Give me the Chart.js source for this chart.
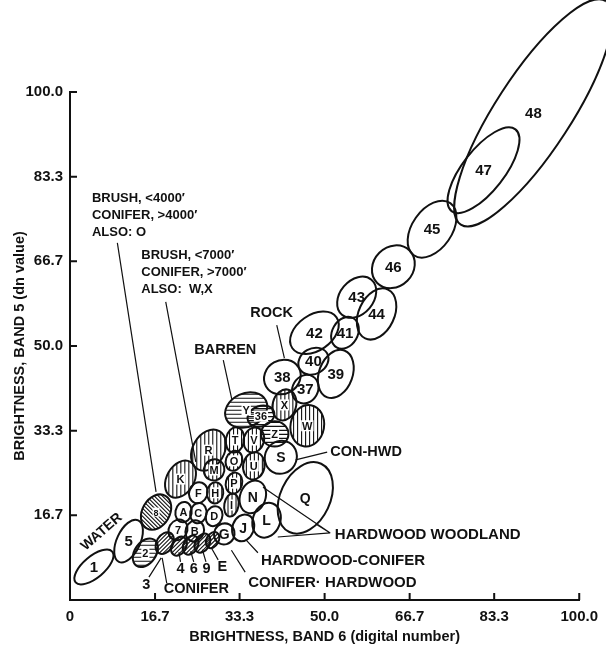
<!DOCTYPE html>
<html>
<head>
<meta charset="utf-8">
<script src="https://cdn.jsdelivr.net/npm/chart.js@4.4.1/dist/chart.umd.min.js"></script>
<style>
    html, body { margin: 0; padding: 0; background: #fff; }
</style>
</head>
<body>
<canvas id="chart" width="606" height="650"></canvas>
<script>
    // class ellipses: centre (band 6, band 5), semi axes in dn, tilt in degrees
    const classNames = ['48','47','45','46','43','44','41','42','40','39','38','37','X','W','Z','36','Y','T','V','R','O','U','S','K','M','F','H','P','I','N','L','J','G','Q','A','C','D','8','7','B','5','1','2','3','4','6','9','E'];
    const band6 = [91.0,81.2,71.1,63.5,56.3,60.2,54.0,48.0,47.8,52.2,41.7,46.2,42.1,46.6,40.2,37.5,34.6,32.4,36.1,27.2,32.2,36.1,41.4,21.7,28.3,25.2,28.5,32.2,31.7,35.9,38.6,34.0,30.3,46.2,22.3,25.2,28.3,16.9,21.2,24.5,11.5,4.7,14.8,18.6,21.4,23.7,26.0,28.0];
    const band5 = [95.9,84.6,73.0,65.6,59.6,56.3,52.6,52.6,47.0,44.5,43.9,41.5,38.4,34.3,32.7,36.2,37.4,31.5,31.5,29.5,27.4,26.4,28.1,23.8,25.6,21.1,21.1,23.0,18.7,20.3,15.7,14.2,13.0,20.1,17.3,17.1,16.5,17.3,13.8,13.6,11.6,6.5,9.3,11.2,10.6,10.8,11.2,11.8];
    const semiMajor = [26.2,10.2,6.25,4.5,4.5,5.3,3.3,5.3,3.1,4.9,3.7,2.9,3.1,4.1,2.7,2.7,4.3,2.5,2.5,4.3,2.0,2.7,3.3,3.9,2.1,2.1,2.1,2.1,2.3,3.3,3.5,2.7,2.1,7.4,2.0,2.0,2.0,3.7,2.1,2.1,4.5,4.7,3.1,2.3,2.0,2.0,2.0,1.7];
    const semiMinor = [7.4,4.1,3.9,3.9,3.3,3.5,2.5,3.5,2.5,3.3,3.3,2.5,2.3,3.3,2.5,2.0,3.3,1.8,2.0,3.1,1.6,2.1,3.1,2.7,2.0,1.8,1.6,1.6,1.4,2.5,2.7,2.1,2.0,4.9,1.6,1.6,1.6,2.7,1.8,1.8,2.3,2.1,2.1,1.6,1.4,1.4,1.4,1.2];
    const tilt = [57,52,55,45,50,65,60,35,30,70,30,60,75,80,0,20,25,80,75,60,70,80,60,60,60,70,85,75,80,70,70,70,60,65,80,80,70,60,60,70,65,40,55,60,60,60,60,60];

    const tickValues = [0, 16.7, 33.3, 50.0, 66.7, 83.3, 100.0];

    // styling per class
    const hatchByClass = {
        X: 'v', W: 'v', T: 'v', V: 'v', R: 'v', O: 'v', U: 'v', K: 'v', M: 'v', H: 'v', P: 'v', I: 'v',
        Z: 'h', '36': 'h', Y: 'h', '2': 'h',
        '8': 'd',
        '3': 'u', '4': 'u', '6': 'u', '9': 'u', E: 'u'
    };
    const outsideLabel = ['3', '4', '6', '9', 'E'];
    const bigLabels = ['48','47','45','46','43','44','41','42','40','39','38','37','5','1'];
    const midLabels = ['S','N','L','J','Q','G'];

    // text notes and leader lines, placed in data units
    const notes = [
        { lines: ['BRUSH, <4000\u2032', 'CONIFER, >4000\u2032', 'ALSO: O'], x: 4.3, y: 79.0, align: 'left', size: 13 },
        { lines: ['BRUSH, <7000\u2032', 'CONIFER, >7000\u2032', 'ALSO:  W,X'], x: 14.0, y: 67.9, align: 'left', size: 13 },
        { lines: ['WATER'], x: 6.2, y: 13.4, align: 'center', size: 14, rot: -41 },
        { lines: ['BARREN'], x: 30.5, y: 49.2, align: 'center', size: 14.5 },
        { lines: ['ROCK'], x: 39.6, y: 56.5, align: 'center', size: 14.5 },
        { lines: ['CON-HWD'], x: 51.1, y: 29.1, align: 'left', size: 14.5 },
        { lines: ['HARDWOOD WOODLAND'], x: 52.0, y: 12.8, align: 'left', size: 15 },
        { lines: ['HARDWOOD-CONIFER'], x: 37.5, y: 7.7, align: 'left', size: 15 },
        { lines: ['CONIFER\u00b7 HARDWOOD'], x: 35.0, y: 3.3, align: 'left', size: 15 },
        { lines: ['CONIFER'], x: 18.4, y: 2.2, align: 'left', size: 14.5 },
        { lines: ['3'], x: 15.0, y: 3.0, align: 'center', size: 14.5 },
        { lines: ['4'], x: 21.7, y: 6.1, align: 'center', size: 14.5 },
        { lines: ['6'], x: 24.3, y: 6.1, align: 'center', size: 14.5 },
        { lines: ['9'], x: 26.8, y: 6.1, align: 'center', size: 14.5 },
        { lines: ['E'], x: 29.9, y: 6.5, align: 'center', size: 14.5 }
    ];
    const leaders = [
        [9.3, 70.3, 16.9, 21.3],
        [18.8, 58.7, 24.7, 27.2],
        [30.1, 47.2, 31.8, 39.4],
        [40.6, 54.1, 42.1, 47.6],
        [50.5, 29.1, 44.3, 27.6],
        [51.1, 13.2, 40.8, 12.4],
        [51.1, 13.2, 37.9, 22.2],
        [51.1, 13.2, 48.5, 14.8],
        [36.9, 9.3, 34.6, 11.8],
        [34.4, 5.5, 31.7, 9.8],
        [29.1, 7.9, 27.8, 10.2],
        [15.5, 4.5, 17.9, 8.3],
        [19.0, 3.3, 18.1, 8.3],
        [21.7, 7.5, 21.4, 9.4],
        [24.3, 7.5, 23.7, 9.6],
        [26.7, 7.5, 26.0, 9.9]
    ];

    const FONT = '"Liberation Sans", Arial, sans-serif';

    function hatchEllipse(ctx, cx, cy, r, kind) {
        ctx.lineWidth = 1.1;
        ctx.beginPath();
        for (let t = -2 * r; t <= 2 * r; t += 4) {
            if (kind === 'v') { ctx.moveTo(cx + t, cy - r); ctx.lineTo(cx + t, cy + r); }
            else if (kind === 'h') { ctx.moveTo(cx - r, cy + t); ctx.lineTo(cx + r, cy + t); }
            else if (kind === 'd') { ctx.moveTo(cx + t - r, cy - r); ctx.lineTo(cx + t + r, cy + r); }
            else { ctx.moveTo(cx + t - r, cy + r); ctx.lineTo(cx + t + r, cy - r); }
        }
        ctx.stroke();
    }

    const ellipsePlugin = {
        id: 'ellipses',
        afterDatasetsDraw(chart) {
            const { ctx, scales: { x, y } } = chart;
            const kx = Math.abs(x.getPixelForValue(1) - x.getPixelForValue(0));
            const ky = Math.abs(y.getPixelForValue(1) - y.getPixelForValue(0));
            const k = (kx + ky) / 2;
            ctx.save();
            ctx.strokeStyle = '#111';
            ctx.fillStyle = '#111';

            classNames.forEach((name, i) => {
                const cx = x.getPixelForValue(band6[i]);
                const cy = y.getPixelForValue(band5[i]);
                const a = semiMajor[i] * k, b = semiMinor[i] * k;
                const rot = -tilt[i] * Math.PI / 180;
                const kind = hatchByClass[name];
                if (kind) {
                    ctx.save();
                    ctx.beginPath();
                    ctx.ellipse(cx, cy, a, b, rot, 0, Math.PI * 2);
                    ctx.clip();
                    hatchEllipse(ctx, cx, cy, a + 2, kind);
                    ctx.restore();
                }
                ctx.beginPath();
                ctx.ellipse(cx, cy, a, b, rot, 0, Math.PI * 2);
                ctx.lineWidth = 2;
                ctx.stroke();
            });

            // labels inside the ellipses
            ctx.textAlign = 'center';
            ctx.textBaseline = 'middle';
            classNames.forEach((name, i) => {
                if (outsideLabel.includes(name)) return;
                let size = 11;
                if (bigLabels.includes(name)) size = 15;
                else if (midLabels.includes(name)) size = 14;
                else if (name === '8') size = 9;
                ctx.font = `bold ${size}px ${FONT}`;
                const cx = x.getPixelForValue(band6[i]);
                const cy = y.getPixelForValue(band5[i]);
                if (hatchByClass[name]) {
                    const w = ctx.measureText(name).width;
                    ctx.fillStyle = '#fff';
                    ctx.fillRect(cx - w / 2 - 1, cy - size / 2, w + 2, size);
                    ctx.fillStyle = '#111';
                }
                ctx.fillText(name, cx, cy + 1);
            });

            // leader lines
            ctx.lineWidth = 1.2;
            ctx.beginPath();
            leaders.forEach(([x1, y1, x2, y2]) => {
                ctx.moveTo(x.getPixelForValue(x1), y.getPixelForValue(y1));
                ctx.lineTo(x.getPixelForValue(x2), y.getPixelForValue(y2));
            });
            ctx.stroke();

            // notes
            notes.forEach(n => {
                ctx.save();
                ctx.font = `bold ${n.size}px ${FONT}`;
                ctx.textAlign = n.align;
                ctx.textBaseline = 'middle';
                ctx.translate(x.getPixelForValue(n.x), y.getPixelForValue(n.y));
                if (n.rot) ctx.rotate(n.rot * Math.PI / 180);
                n.lines.forEach((line, j) => ctx.fillText(line, 0, j * 17));
                ctx.restore();
            });
            ctx.restore();
        },
        afterDraw(chart) {
            // inward tick marks
            const { ctx, chartArea, scales: { x, y } } = chart;
            ctx.save();
            ctx.strokeStyle = '#111';
            ctx.lineWidth = 2;
            ctx.beginPath();
            tickValues.forEach(v => {
                if (v === 0) return;
                const px = x.getPixelForValue(v);
                ctx.moveTo(px, chartArea.bottom);
                ctx.lineTo(px, chartArea.bottom - 7);
                const py = y.getPixelForValue(v);
                ctx.moveTo(chartArea.left, py);
                ctx.lineTo(chartArea.left + 7, py);
            });
            ctx.stroke();
            ctx.restore();
        }
    };

    const ctx = document.getElementById('chart').getContext('2d');
    new Chart(ctx, {
        type: 'scatter',
        data: {
            datasets: [{
                data: classNames.map((n, i) => ({ x: band6[i], y: band5[i] })),
                pointRadius: 0
            }]
        },
        options: {
            responsive: false,
            animation: false,
            layout: { padding: { top: 92, right: 21, left: 0, bottom: 0 } },
            plugins: { legend: { display: false }, tooltip: { enabled: false } },
            scales: {
                x: {
                    type: 'linear', min: 0, max: 100,
                    afterBuildTicks: s => { s.ticks = tickValues.map(v => ({ value: v })); },
                    afterFit: s => { s.height = 50; },
                    grid: { display: false, drawTicks: false },
                    border: { display: true, color: '#111', width: 2 },
                    ticks: {
                        padding: 8, color: '#111', maxRotation: 0, autoSkip: false,
                        font: { family: FONT, size: 15, weight: 'bold' },
                        callback: v => v === 0 ? '0' : v.toFixed(1)
                    },
                    title: {
                        display: true, text: 'BRIGHTNESS, BAND 6 (digital number)', color: '#111',
                        font: { family: FONT, size: 14.5, weight: 'bold' },
                        padding: { top: 0, bottom: 4 }
                    }
                },
                y: {
                    type: 'linear', min: 0, max: 100,
                    afterBuildTicks: s => { s.ticks = tickValues.map(v => ({ value: v })); },
                    afterFit: s => { s.width = 70; },
                    grid: { display: false, drawTicks: false },
                    border: { display: true, color: '#111', width: 2 },
                    ticks: {
                        padding: 7, color: '#111', autoSkip: false,
                        font: { family: FONT, size: 15, weight: 'bold' },
                        callback: v => v === 0 ? '' : v.toFixed(1)
                    },
                    title: {
                        display: true, text: 'BRIGHTNESS, BAND 5 (dn value)', color: '#111',
                        font: { family: FONT, size: 14.5, weight: 'bold' },
                        padding: { top: 11, bottom: 0 }
                    }
                }
            }
        },
        plugins: [ellipsePlugin]
    });
</script>
</body>
</html>
